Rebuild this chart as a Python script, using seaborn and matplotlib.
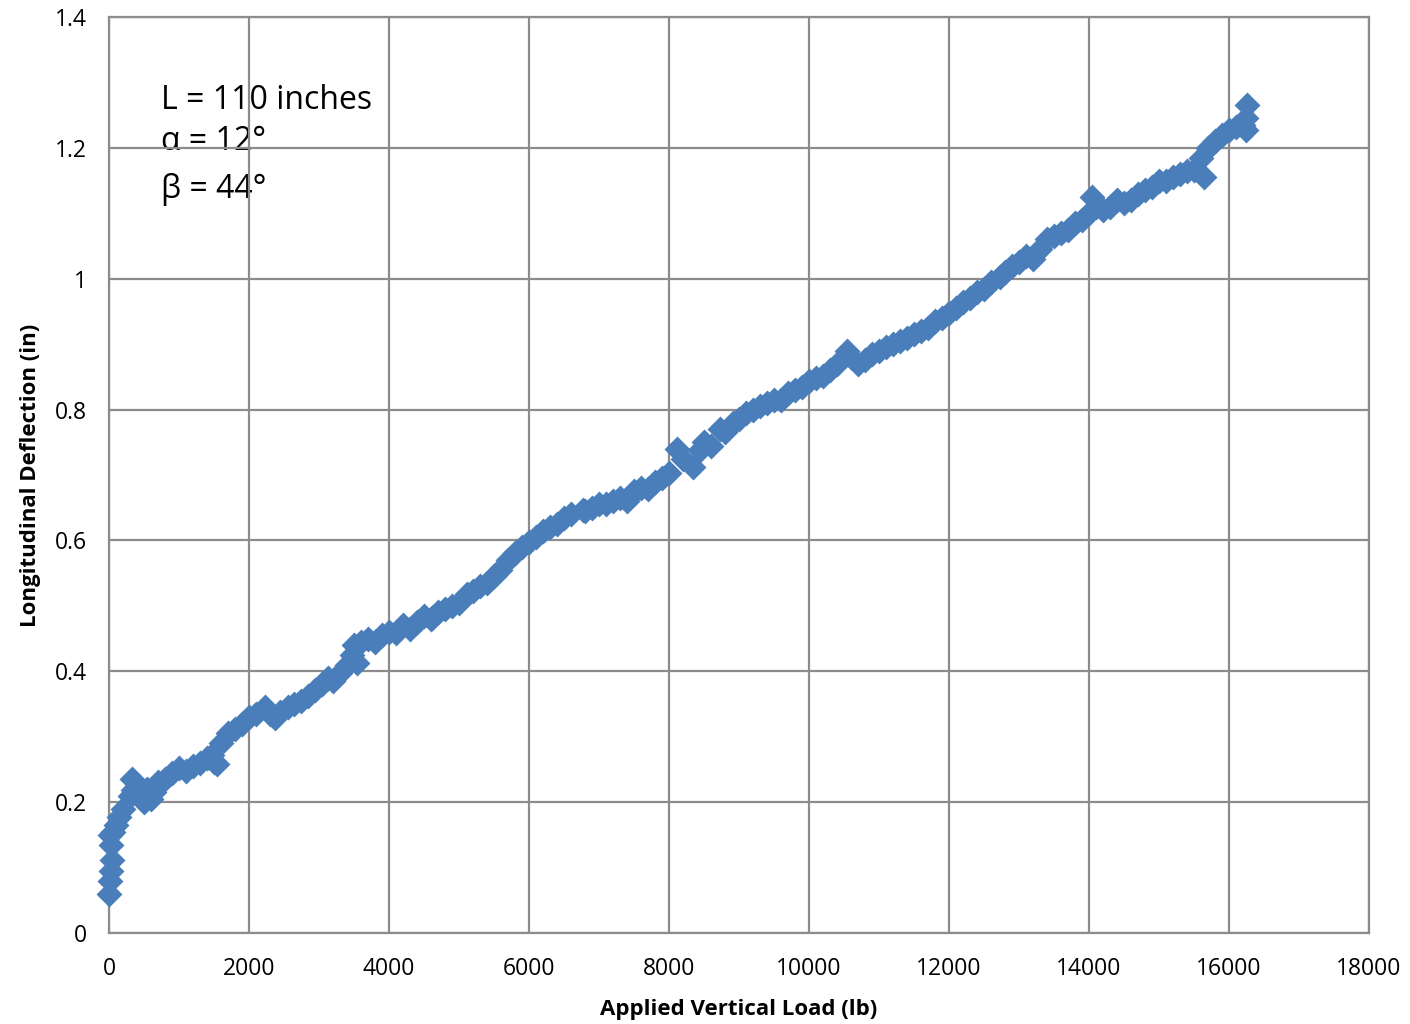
import matplotlib
matplotlib.use("Agg")
import matplotlib.pyplot as plt
import seaborn as sns
import pandas as pd

load_lb = [
    0, 20, 30, 50, 30, 20, 60, 100, 150, 200,
    300, 330, 350, 400, 450, 500, 550, 600, 650, 700,
    800, 900, 1000, 1100, 1200, 1300, 1400, 1470, 1500, 1550,
    1600, 1700, 1800, 1900, 2000, 2100, 2230, 2300, 2370, 2450,
    2560, 2650, 2750, 2850, 2950, 3050, 3130, 3200, 3300, 3400,
    3470, 3500, 3550, 3600, 3700, 3800, 3900, 4000, 4100, 4200,
    4300, 4400, 4500, 4600, 4630, 4700, 4800, 4900, 5000, 5110,
    5200, 5300, 5400, 5500, 5590, 5700, 5800, 5900, 6000, 6100,
    6200, 6300, 6400, 6500, 6600, 6770, 6800, 6900, 7000, 7100,
    7200, 7300, 7400, 7490, 7500, 7600, 7700, 7800, 7900, 8000,
    8110, 8200, 8340, 8440, 8500, 8600, 8730, 8800, 8910, 9000,
    9100, 9200, 9300, 9400, 9500, 9600, 9700, 9800, 9900, 10000,
    10100, 10200, 10300, 10400, 10540, 10600, 10700, 10800, 10900, 11000,
    11100, 11200, 11300, 11400, 11500, 11600, 11700, 11800, 11900, 12000,
    12100, 12200, 12300, 12400, 12500, 12600, 12730, 12800, 12900, 13000,
    13100, 13200, 13300, 13400, 13500, 13600, 13700, 13800, 13900, 14000,
    14050, 14100, 14200, 14300, 14400, 14500, 14600, 14700, 14800, 14900,
    15000, 15100, 15200, 15300, 15400, 15500, 15640, 15600, 15700, 15800,
    15900, 16000, 16100, 16200, 16260, 16250, 16250,
]
deflection_in = [
    0.060, 0.080, 0.095, 0.112, 0.135, 0.150, 0.155, 0.165, 0.178, 0.190,
    0.210, 0.235, 0.218, 0.225, 0.215, 0.200, 0.220, 0.205, 0.215, 0.230,
    0.235, 0.245, 0.252, 0.248, 0.255, 0.260, 0.268, 0.272, 0.262, 0.258,
    0.290, 0.305, 0.312, 0.320, 0.330, 0.335, 0.345, 0.335, 0.328, 0.338,
    0.345, 0.350, 0.355, 0.362, 0.372, 0.380, 0.390, 0.385, 0.398, 0.410,
    0.425, 0.440, 0.412, 0.445, 0.450, 0.445, 0.455, 0.460, 0.458, 0.470,
    0.465, 0.475, 0.485, 0.480, 0.483, 0.490, 0.495, 0.500, 0.505, 0.518,
    0.522, 0.530, 0.535, 0.545, 0.555, 0.570, 0.580, 0.590, 0.598, 0.605,
    0.615, 0.620, 0.625, 0.635, 0.640, 0.646, 0.645, 0.650, 0.655, 0.655,
    0.660, 0.665, 0.660, 0.672, 0.675, 0.680, 0.678, 0.690, 0.695, 0.703,
    0.740, 0.725, 0.712, 0.738, 0.750, 0.745, 0.770, 0.765, 0.780, 0.785,
    0.795, 0.800, 0.805, 0.810, 0.815, 0.815, 0.825, 0.830, 0.835, 0.843,
    0.848, 0.852, 0.860, 0.870, 0.890, 0.880, 0.870, 0.875, 0.885, 0.890,
    0.895, 0.900, 0.905, 0.910, 0.915, 0.920, 0.925, 0.935, 0.940, 0.948,
    0.955, 0.965, 0.970, 0.980, 0.985, 0.995, 1.003, 1.010, 1.020, 1.025,
    1.035, 1.030, 1.045, 1.060, 1.065, 1.070, 1.075, 1.085, 1.090, 1.100,
    1.125, 1.110, 1.105, 1.110, 1.120, 1.115, 1.120, 1.130, 1.135, 1.140,
    1.150, 1.150, 1.155, 1.160, 1.165, 1.166, 1.155, 1.185, 1.200, 1.210,
    1.220, 1.227, 1.232, 1.235, 1.265, 1.245, 1.228,
]

annotation_lines = ["L = 110 inches", "\u03b1 = 12\u00b0", "\u03b2 = 44\u00b0"]
annotation_y = [1.272, 1.209, 1.136]
x_ticks = [0, 2000, 4000, 6000, 8000, 10000, 12000, 14000, 16000, 18000]
y_ticks = [0, 0.2, 0.4, 0.6, 0.8, 1.0, 1.2, 1.4]
y_tick_labels = ["0", "0.2", "0.4", "0.6", "0.8", "1", "1.2", "1.4"]

df = pd.DataFrame({"load": load_lb, "defl": deflection_in})

sns.set_style("white")
plt.rcParams["font.family"] = ["Open Sans", "DejaVu Sans"]

fig = plt.figure(figsize=(14.10, 10.24), dpi=100)
ax = fig.add_axes([0.0773, 0.0889, 0.8936, 0.8945])

ax.set_axisbelow(True)
ax.grid(True, color="#8c8c8c", linewidth=1.6, zorder=0.5)
sns.scatterplot(data=df, x="load", y="defl", marker="D", s=175, color="#4a7ebb",
                linewidth=0, ax=ax, zorder=3, clip_on=False)

ax.set_xlim(0, 18000)
ax.set_ylim(0, 1.4)
ax.set_xticks(x_ticks)
ax.set_xticklabels([str(t) for t in x_ticks], fontsize=16.5, color="black")
ax.set_yticks(y_ticks)
ax.set_yticklabels(y_tick_labels, fontsize=16.5, color="black")
ax.tick_params(axis="x", length=0, pad=17)
ax.tick_params(axis="y", length=0, pad=16)
for sp in ax.spines.values():
    sp.set_color("#8c8c8c")
    sp.set_linewidth(1.6)

ax.set_xlabel("Applied Vertical Load (lb)", fontsize=16, fontweight="bold",
              labelpad=13, color="black")
ax.set_ylabel("Longitudinal Deflection (in)", fontsize=16, fontweight="bold",
              labelpad=10, color="black")

for line, yv in zip(annotation_lines, annotation_y):
    ax.text(740, yv, line, fontsize=23, va="center", ha="left", color="black", zorder=0.4)

fig.savefig("out.png", dpi=100)
